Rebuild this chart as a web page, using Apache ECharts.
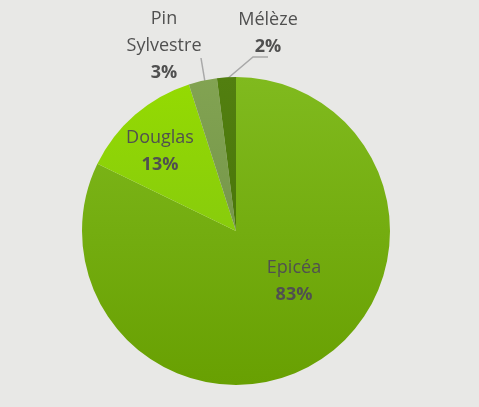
<!DOCTYPE html>
<html>
<head>
<meta charset="utf-8">
<script src="https://cdn.jsdelivr.net/npm/echarts@6/dist/echarts.min.js"></script>
<style>
html,body{margin:0;padding:0;background:#e8e8e6;}
#c{width:479px;height:407px;}
</style>
</head>
<body>
<div id="c"></div>
<script>
// Data
const categories = ['Epicéa', 'Douglas', 'Pin\nSylvestre', 'Mélèze'];
const values = [83, 13, 3, 2];

// Styles (not data)
const grad = (a, b) => new echarts.graphic.LinearGradient(0, 0, 0, 1, [{offset: 0, color: a}, {offset: 1, color: b}]);
const colors = [grad('#80ba1e', '#68a002'), grad('#94da02', '#88cc0c'), grad('#82a352', '#76974a'), grad('#527f10', '#4a760a')];
const labelPos = [
  {x: 294, y: 281, line: null},
  {x: 160, y: 151, line: null},
  {x: 164, y: 46, line: [[205, 82], [201, 58], [201, 58]]},
  {x: 268, y: 33, line: [[227, 79], [253, 57], [268, 57]]}
];

const chart = echarts.init(document.getElementById('c'));
chart.setOption({
  backgroundColor: '#e8e8e6',
  animation: false,
  series: [{
    type: 'pie',
    center: [236, 231],
    radius: 154,
    startAngle: 90,
    clockwise: true,
    avoidLabelOverlap: false,
    data: categories.map((n, i) => ({
      name: n,
      value: values[i],
      itemStyle: {color: colors[i]},
      labelLine: {show: !!labelPos[i].line}
    })),
    itemStyle: {borderWidth: 0},
    label: {
      show: true,
      position: 'outside',
      formatter: p => '{n|' + p.name.split('\n').join('}\n{n|') + '}\n{p|' + p.value + '%}',
      rich: {
        n: {fontFamily: 'Open Sans', fontSize: 18, color: '#505050', lineHeight: 27, align: 'center'},
        p: {fontFamily: 'Open Sans', fontSize: 18, fontWeight: 'bold', color: '#505050', lineHeight: 27, align: 'center'}
      }
    },
    labelLine: {lineStyle: {color: '#a8a8a8', width: 1.5}},
    labelLayout: p => {
      const L = labelPos[p.dataIndex];
      const o = {x: L.x, y: L.y, align: 'center', verticalAlign: 'middle'};
      if (L.line) o.labelLinePoints = L.line;
      return o;
    }
  }]
});
</script>
</body>
</html>
